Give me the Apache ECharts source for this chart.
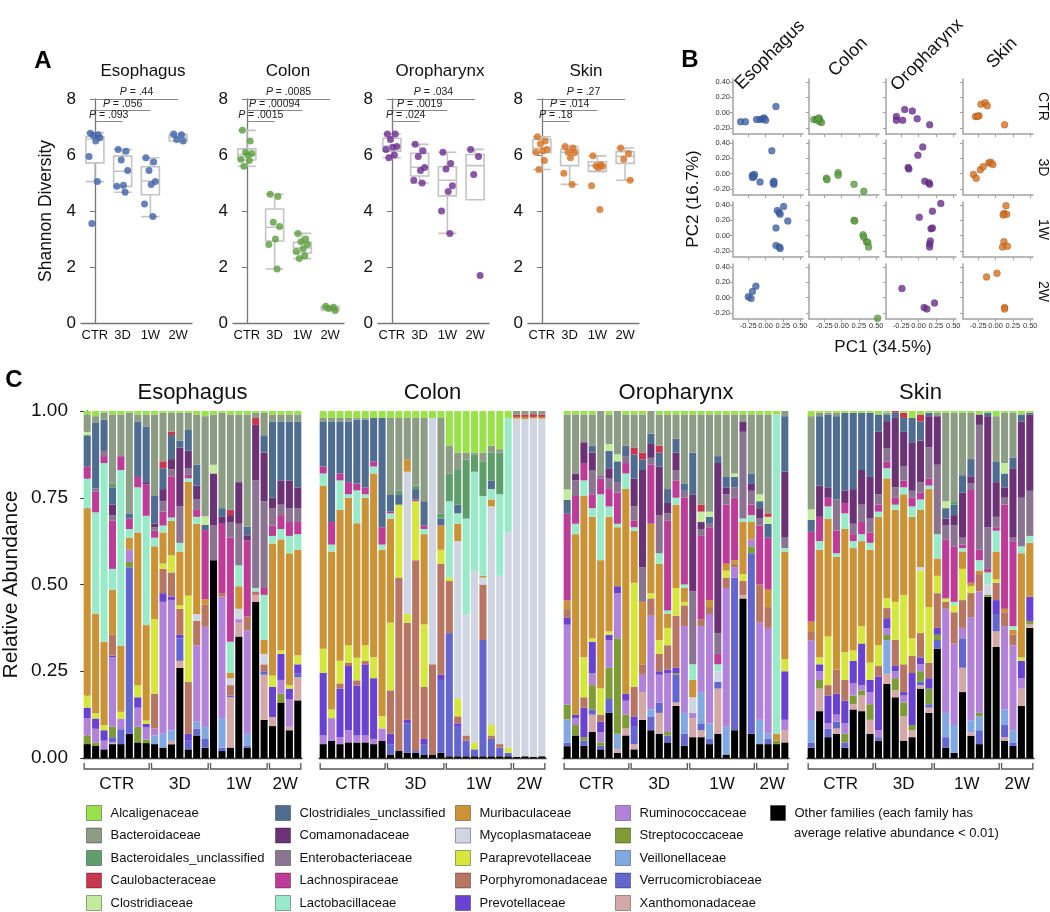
<!DOCTYPE html>
<html><head><meta charset="utf-8">
<script src="https://cdn.jsdelivr.net/npm/echarts@6/dist/echarts.min.js"></script>
<style>html,body{margin:0;padding:0;background:#fff}#c{width:1050px;height:912px}</style>
</head><body><div id="c"></div>
<script>
const FONT = '"Liberation Sans", Arial, Helvetica, sans-serif';
const TISSUES = ['Esophagus', 'Colon', 'Oropharynx', 'Skin'];
const GROUPS = ['CTR', '3D', '1W', '2W'];
const TISSUE_COLORS = ['#3f63a9', '#5b9f3d', '#6b2d8f', '#d7701f'];

// ---------- Panel A: Shannon diversity ----------
const shannonEsophagus = [[6.78,6.72,6.70,6.62,6.50,5.95,5.05,3.55],[6.20,6.13,5.82,5.45,4.92,4.88,4.67],[5.90,5.75,5.45,5.05,4.95,4.25,3.80],[6.75,6.72,6.55,6.50]];
const shannonColon = [[6.88,6.50,6.10,6.05,6.00,5.85,5.80,5.60],[4.60,4.52,3.60,3.45,3.00,2.80,1.93],[3.20,3.00,2.90,2.80,2.65,2.55,2.40,2.30],[0.60,0.56,0.52,0.45]];
const shannonOropharynx = [[6.75,6.75,6.55,6.30,6.28,6.20,6.00,5.90],[6.38,6.15,5.95,5.55,5.45,5.10,5.00],[6.10,5.70,5.50,4.90,4.70,4.00,3.20],[6.20,5.95,5.30,1.70]];
const shannonSkin = [[6.65,6.50,6.40,6.20,6.15,6.10,5.80,5.48],[6.30,6.25,6.10,6.08,5.90,5.35,4.95],[5.97,5.65,5.62,5.60,5.55,4.90,4.05],[6.25,6.05,5.85,5.10]];
// [min, Q1, median, Q3, max]
const boxEsophagus = [[5.05,5.72,6.57,6.66,6.80],[4.67,4.88,5.42,5.96,6.20],[3.80,4.58,5.07,5.58,5.90],[6.50,6.50,6.62,6.70,6.75]];
const boxColon = [[5.60,5.82,6.02,6.22,6.88],[1.93,2.93,3.42,4.07,4.60],[2.30,2.50,2.68,2.88,3.20],[0.45,0.50,0.55,0.58,0.60]];
const boxOropharynx = [[5.90,6.14,6.32,6.60,6.75],[5.00,5.25,5.56,6.06,6.38],[3.20,4.54,5.10,5.58,6.10],[4.40,4.40,5.62,6.02,6.20]];
const boxSkin = [[5.48,6.08,6.24,6.56,6.65],[4.95,5.62,6.10,6.20,6.30],[5.40,5.43,5.62,5.76,5.97],[5.10,5.70,5.95,6.12,6.25]];
const pEsophagus = ['.093', '.056', '.44'];
const pColon = ['.0015', '.00094', '.0085'];
const pOropharynx = ['.024', '.0019', '.034'];
const pSkin = ['.18', '.014', '.27'];
const P_BRACKET_Y = [7.2, 7.6, 8.0];

// ---------- Panel B: PCA (per tissue, rows CTR/3D/1W/2W) ----------
const pcaEsophagus = [
 [[-0.36,-0.12],[-0.29,-0.12],[-0.13,-0.09],[-0.08,-0.09],[-0.04,-0.08],[-0.02,-0.07],[0.0,-0.10],[0.15,0.08]],
 [[0.09,0.30],[-0.19,-0.02],[-0.17,-0.04],[-0.16,-0.01],[-0.19,-0.05],[-0.08,-0.11],[0.12,-0.10],[0.12,-0.14],[0.11,-0.12]],
 [[0.26,0.38],[0.17,0.33],[0.20,0.30],[0.21,0.28],[0.32,0.19],[0.15,0.10],[0.15,-0.13],[0.20,-0.15],[0.21,-0.17]],
 [[-0.14,0.15],[-0.19,0.08],[-0.25,0.01],[-0.21,-0.01]]];
const pcaColon = [
 [[-0.40,-0.09],[-0.36,-0.09],[-0.32,-0.08],[-0.31,-0.12],[-0.29,-0.13],[-0.35,-0.10],[-0.33,-0.07]],
 [[-0.22,-0.06],[-0.21,-0.08],[-0.05,0.01],[-0.05,-0.02],[0.18,-0.14],[0.32,-0.23]],
 [[0.18,0.20],[0.19,0.19],[0.31,0.01],[0.32,-0.02],[0.36,-0.08],[0.38,-0.09],[0.39,-0.15]],
 [[0.52,-0.27]]];
const pcaOropharynx = [
 [[-0.32,-0.05],[-0.20,0.04],[-0.09,0.02],[-0.02,-0.08],[0.16,-0.16],[-0.32,-0.10],[-0.23,-0.10]],
 [[0.06,0.35],[-0.01,0.24],[-0.15,0.08],[-0.14,0.06],[0.09,-0.10],[0.15,-0.12],[0.16,-0.14]],
 [[0.32,0.42],[0.20,0.32],[0.01,0.24],[0.18,0.09],[0.20,0.10],[0.17,-0.07],[0.16,-0.11],[0.16,-0.15]],
 [[-0.24,0.12],[0.08,-0.13],[0.12,-0.15],[0.23,-0.07]]];
const pcaSkin = [
 [[-0.29,-0.05],[-0.24,-0.04],[-0.21,0.11],[-0.15,0.13],[-0.12,0.09],[0.13,-0.16],[-0.26,-0.05]],
 [[-0.32,-0.01],[-0.28,-0.06],[-0.22,0.05],[-0.18,0.09],[-0.10,0.14],[-0.07,0.15],[-0.04,0.12]],
 [[0.15,0.39],[0.12,0.29],[0.16,0.28],[0.11,0.27],[0.12,-0.08],[0.10,-0.15],[0.17,-0.14]],
 [[-0.13,0.27],[0.02,0.32],[0.13,-0.13],[0.13,-0.15]]];

// ---------- Panel C: relative abundance (percent per sample) ----------
const FAMILY_NAMES = {Al:'Alcaligenaceae',Ba:'Bacteroidaceae',Bu:'Bacteroidales_unclassified',Ca:'Caulobacteraceae',Cl:'Clostridiaceae',
 Cu:'Clostridiales_unclassified',Co:'Comamonadaceae',En:'Enterobacteriaceae',Ln:'Lachnospiraceae',La:'Lactobacillaceae',
 Mu:'Muribaculaceae',My:'Mycoplasmataceae',Pa:'Paraprevotellaceae',Po:'Porphyromonadaceae',Pv:'Prevotellaceae',
 Ru:'Ruminococcaceae',St:'Streptococcaceae',Vl:'Veillonellaceae',Ve:'Verrucomicrobiaceae',X:'Xanthomonadaceae',O:'Other families'};
const FAMILY_COLORS = {Al:'#99e24c',Ba:'#8d9c85',Bu:'#5e9e6b',Ca:'#c8374f',Cl:'#c2eb9c',Cu:'#4e6d90',Co:'#6b3376',En:'#8a7491',
 Ln:'#be3b98',La:'#98ebc9',Mu:'#cc9236',My:'#cfd5e2',Pa:'#d6e63c',Po:'#b87561',Pv:'#6942d2',Ru:'#b282db',St:'#7e9b35',
 Vl:'#80a8e3',Ve:'#6366cf',X:'#d5a8a8',O:'#000000'};
const STACK_ORDER = ['O','X','Ve','Vl','St','Ru','Pv','Po','Pa','My','Mu','La','Ln','En','Co','Cu','Cl','Ca','Bu','Ba','Al'];

const esophagusGroupSizes = [8, 7, 7, 4];
const esophagusBars = [
 {O:4,St:2.5,Ru:5,Pv:3,Pa:3.5,Mu:54,La:8.5,Ln:3.5,Cu:9,Cl:1,Ba:5,Al:1},
 {O:3.5,St:1,Ru:4,Pv:3,Pa:1.5,Mu:29,La:29.5,Ln:6,En:1,Cu:19,Ba:2,Al:1.5},
 {O:2.5,Ru:2.5,Pv:3,Pa:1.5,Mu:24,La:51.5,Ln:2,En:1.5,Cu:9,Ba:2,Al:0.5},
 {O:4,X:0.5,Ve:1.5,St:3,Ru:20,Pv:0.5,Po:6,Mu:13,La:6,Ln:14,Co:3,En:1.5,Cu:5,Bu:1,Ba:20,Al:1},
 {O:4,Ve:4.3,Ru:3,Pa:2,Mu:19,La:50.6,Ln:4,Ba:12,Al:1},
 {O:7,Ve:48,St:1.5,Ru:3.5,Mu:3.5,La:2.5,Ln:3,Cu:1.5,Ba:29,Al:0.5},
 {O:4.5,St:4.5,Ru:5.5,Pv:3,Pa:3.5,Mu:44,La:13,Ln:3,Cu:16,Ba:2,Al:1},
 {O:4.3,St:1,Ru:3.5,Pv:1,Pa:1,Mu:27.5,La:31.5,Ln:9,Co:0.7,Cu:16,Ba:3.5,Al:1},
 {O:4,Vl:2.5,Ru:2,Po:10,Pa:21.5,Mu:21,La:2.5,Ln:2,En:1,Co:1,Cu:8,Ba:23.5,Al:1},
 {O:3,Vl:4,Ru:38,Pv:2.5,Po:7,Pa:1.5,Mu:9,La:2,Ln:4,En:3,Co:3.5,Ca:2,Cu:6,Ba:14,Al:0.5},
 {O:4,X:1,Vl:3,Ru:38,Pv:1,Po:7,Pa:5,Mu:10,La:1,Ln:12,En:2,Co:3,Cu:7,Ca:1,Ba:5.5,Al:0.5},
 {O:26,X:2,Ve:6.5,Pv:1,Po:7.5,Pa:1,Mu:15.5,La:2.5,En:10.5,Co:17,Cu:2,Ba:8,Al:0.5},
 {O:2.5,Ve:2.5,Pv:2,Po:15,Pa:25,Mu:33,La:1,Ln:1,En:2,Co:5,Cu:6,Ba:5,Al:0.5},
 {O:6.5,Vl:2,Ve:2,Ru:22,Po:7,My:2,Mu:26,La:2,Ln:2,En:3,Co:4,Cu:6,Ba:14.5,Al:1},
 {O:3,Ve:2.5,Vl:3.5,Ru:29,Po:6.5,Mu:1.5,Ln:20,Cl:2.5,Cu:1.5,Ba:29,Al:1.5},
 {O:57,En:10,Co:15,Cl:2.5,Ba:14.5,Al:1},
 {O:2,Ve:1,Vl:8.5,Ru:35,Po:1,Ln:20,Co:2,Cu:2.5,Ba:27.5,Al:0.5},
 {O:3,X:14.5,Ve:0.5,Po:3,My:2,Mu:1.5,La:9,Ln:30,En:4.5,Co:2,Ca:1.5,Ba:27.5,Al:1},
 {O:35,X:4,Ru:1,My:3,Mu:6.5,La:6,En:12,Co:12,Ba:19.5,Al:1},
 {O:3,Ve:0.5,Vl:3.5,Ru:30,Po:4,Ln:22,Cu:2.5,Co:1.5,Ba:32.5,Al:1},
 {O:45,X:2,Po:1,La:1,En:31,Co:16,Ca:2,Ba:1.5,Al:0.5},
 {O:11,X:13,Ve:1,Po:2,My:3,Mu:4,La:13,Ln:2,En:25,Co:14,Cu:5,Ba:6.5,Al:0.5},
 {O:9.2,X:2.6,Pv:8.7,Pa:3.3,Mu:38,La:2.2,Ln:3,En:5,Co:3,Cu:22,Ba:2,Al:1},
 {O:16,St:2.5,Ru:4,Pv:7.5,Pa:1,Mu:32,La:3,Ln:4,En:3,Co:7,Cu:17,Ba:2,Al:1},
 {O:8,X:1,Ru:8,Pv:3,Pa:1,Mu:38,La:5,Ln:4,En:4,Co:8,Cu:17,Ba:2,Al:1},
 {O:16.6,X:6.7,Ve:1,Pv:2.7,Pa:2.6,Mu:30.4,La:4.5,Ln:3.5,En:4,Co:6,Cu:19,Ba:2,Al:1}];

const colonGroupSizes = [8, 7, 8, 4];
const colonBars = [
 {O:4,Ru:2.5,Pv:18,Pa:7,Mu:47,La:3.5,Ln:2,Cu:13,Ba:1,Al:2},
 {O:5,Ru:6.5,Pa:2.5,Mu:45.5,La:2,Ln:6.5,Cu:29,Ba:1,Al:2},
 {O:4,Ru:2,Pv:14,Po:1.5,Pa:6.5,Mu:43.5,La:8.5,Ln:2,Cu:15,Ba:1,Al:2},
 {O:4.5,Ru:3.5,Pv:18.5,Po:1,Pa:5,Mu:42.5,La:1,Ln:3.5,Cu:17.5,Ba:1,Al:2},
 {O:4.5,Ru:2,Pv:14.5,Po:1.5,Pa:6.5,Mu:39,La:9.5,Ln:2,Cu:18.5,Ba:0.5,Al:2},
 {O:4.5,Ru:2,Pv:20.5,Po:1,Pa:4.5,Mu:42.5,La:1,Ln:2,Cu:19.5,Ba:0.5,Al:2},
 {O:4,Ru:1.5,Pv:17.5,Pa:6,Mu:53,La:2,Ln:1.5,Cu:12.5,Al:2},
 {O:5,Ru:3.5,Pa:3.5,Mu:48,La:1.5,Ln:5,Cu:31.5,Al:2},
 {O:1,Ve:3,Pv:3,Po:12.5,Pa:19.5,Mu:30,La:1.5,Ln:0.5,Cu:5,Ba:22,Al:2},
 {O:2,Po:50,Pa:21,Cu:3,Bu:1,Ba:21,Al:2},
 {O:1.5,Ve:8.5,Pv:1,Po:28,Pa:2.5,My:41,Mu:3.5,Ba:12,Al:2},
 {O:1.5,Ve:0.5,Po:55,Pa:17,Ln:0.5,Cu:3,Bu:1,Ba:19.5,Al:2},
 {O:1,Ve:3,Pv:1.5,Po:15,Pa:18,Mu:26,La:1.5,Ln:1,Cu:7,Ba:24,Al:2},
 {O:1,Po:26,My:71,Al:2},
 {O:1.5,Ve:21,Pv:1.5,Po:32,Pa:4,Mu:7,Cu:2,Bu:1.5,Ba:27.5,Al:2},
 {O:0.5,Ve:35.5,Po:15,Pa:1,La:22,Bu:8,Ba:8,Al:10},
 {O:0.5,Ve:8.5,Pv:1,Po:2,Pa:5,My:45.5,Mu:5,La:3,Cu:2.5,Bu:10,Ba:5,Al:12},
 {O:0.5,Ve:4.5,Po:1.5,My:35,La:27.5,Bu:17,Ba:2,Al:12},
 {O:0.5,Ve:2,Pa:2,My:49.5,La:28.5,Bu:5,Ba:0.5,Al:12},
 {O:0.5,Ve:33.5,Po:16,Mu:0.5,My:2,La:23,Bu:10,Ba:2.5,Al:12},
 {O:0.5,Ve:5,Po:1,Pa:3,My:63,Mu:2,La:3,Cu:2.5,Bu:8,Ba:2,Al:10},
 {O:0.5,Ve:2.5,Po:1,My:48.5,La:23.5,Bu:12,Ba:1,Al:11},
 {O:0.5,Ve:1,Pa:1.5,My:62,La:33,Al:2},
 {O:0.3,My:97.5,Mu:0.5,Ca:0.7,Ba:1},
 {O:0.5,My:97.2,Mu:0.6,Ca:0.7,Ba:1},
 {O:0.3,My:97.6,Mu:0.4,Ca:0.8,Ba:0.9},
 {O:0.5,My:97.3,Mu:0.5,Ca:0.7,Ba:1}];

const oropharynxGroupSizes = [8, 7, 8, 4];
const oropharynxBars = [
 {O:3.4,Ve:1,Vl:6.7,St:4.3,Ru:23,Pv:2,Po:2.5,Mu:2.5,Ln:25,Cu:4,Cl:3,Ba:21.6,Al:1},
 {O:6.5,St:3,Ru:2,Pv:1,Mu:52,La:3,Ln:8,En:4.5,Co:2,Ba:17,Al:1},
 {O:3.5,Ve:1.5,St:1,Pv:8.5,Po:3,Pa:11.5,Mu:46.5,La:4.5,Ln:5,Co:6,Ba:8,Al:1},
 {O:7.5,X:5,Ve:1.5,Ru:3.5,St:7,Pv:9,Pa:1,Mu:35,La:2.5,Ln:4,En:7,Co:5,Cu:2,Ba:9,Al:1},
 {O:2.5,Ve:1,St:1,Ru:3,Pv:3,Po:2,Pa:7.5,Mu:37,La:19,Ln:4.5,En:1,Ba:18.5},
 {O:13,Ve:4,Pv:1.5,St:9,Ru:8,Pa:1,Mu:33,La:3,Ln:5,En:3,Co:3,Cu:5,Cl:2,Ba:8.5,Al:1},
 {O:1.5,X:1,Vl:4.5,St:27.5,Ru:13,Pv:2,Mu:17,La:1,Ln:9,En:3,Cu:6,Cl:2,Ba:12.5},
 {O:6.5,X:2,St:4,Ru:4,Pv:2,Mu:59,La:4.5,Ln:3,En:2,Cu:3,Ba:9,Al:1},
 {O:2.5,X:1.5,Ve:5,Pv:3,Po:8.5,Pa:30,Mu:15,La:1,Ln:2,En:4,Co:8,Cu:7,Ca:2,Ba:9.5,Al:1},
 {O:11,X:8,Ru:5,Mu:18,Po:3,En:10,Co:28,Cu:3,Ca:2,Ba:11,Al:1},
 {O:8,Ve:4,Vl:2,Ru:27,Po:5,Pa:1.5,Mu:20,Ln:17,En:2,Co:4,Cu:3,Ba:6.5},
 {O:7,X:6,Ve:3,Pv:1,Ru:8,Po:5,Pa:4,Mu:22,La:3,En:11,Co:14,Cu:4,Ca:2,Ba:9,Al:1},
 {O:4.5,Ve:2,St:1,Ru:17,Pv:1,Po:7,Pa:5,Mu:4,La:1,Ln:26,En:2,Co:3,Cu:4,Ba:21.5,Al:1},
 {O:15,X:1,Ve:8,Pv:1.5,St:0.5,Po:15,Pa:8,Mu:24,La:2,Ln:5,En:3,Co:5,Cu:4,Ba:7,Al:1},
 {O:3.5,Ve:3.5,Vl:6,Ru:25,Po:6,Pa:1,Mu:4,Ln:25,La:1,En:2,Cu:2,Ba:20,Al:1},
 {O:6,X:5.5,Ru:1.5,My:4.5,Mu:5,La:4.5,En:21,Co:28,Cu:12,Ba:11,Al:1},
 {O:6,X:2,Ve:2,Vl:9,Ru:19,Po:2,Ln:24,En:2,Co:2,Ca:2,Cl:3,Ba:26,Al:1},
 {O:4,Ve:1.5,Vl:4.5,Ru:31.5,Po:2,Mu:2,Ln:21,En:1,Cu:2,Cl:1.5,Ba:28,Al:1},
 {O:7,X:13,Ve:2,My:3,La:2,Ln:3,En:6,Co:49,Cu:2,Ba:12,Al:1},
 {O:1,Vl:8,Ru:40,Po:3,Mu:2,Ln:17,En:3,Co:2,Cu:3,Pa:2,Ba:18,Al:1},
 {O:8,Ve:44,Ru:3,Po:1,Mu:1,Ln:18,En:3,Cu:3,Cl:1,Ba:17,Al:1},
 {O:46,X:1,Po:4,Pa:2,Mu:15,La:1,En:25,Co:3,Ba:2,Al:1},
 {O:7,Ve:52,St:2,Ru:2,Mu:5,La:2,Ln:3,En:4,Co:2,Cu:3,Ba:17,Al:1},
 {O:4,Vl:7,Ru:28,Po:11,Ln:17,En:2,Co:3,Cu:2,Cl:2,Ba:23,Al:1},
 {O:4,Ve:1.5,Vl:1.5,Ru:30.5,Po:6,Mu:5,Ln:15,Cu:4,Cl:2,Ca:1,Ba:28.5,Al:1},
 {O:4,St:1,Mu:2,La:92,Al:1},
 {O:4.5,X:3.5,Ru:3,Pv:14,Pa:3.5,Mu:31,La:1,En:3,Co:19,Cu:16,Ba:1.5}];

const skinGroupSizes = [8, 7, 8, 4];
const skinBars = [
 {O:3,Ve:1.5,Vl:6.5,Ru:23,Po:2.5,Mu:3,Ln:26,Cu:3.5,Cl:3,Ba:27,Al:1.5},
 {O:13.5,X:6.5,St:2.5,Ru:2.5,Pv:2,Pa:2,Mu:31,La:2.5,Ln:7,Co:9,Cu:20,Ba:1,Al:0.5},
 {O:6,Ve:2.5,Ru:1.5,Pv:8,Po:3,Pa:14,Mu:34,La:3.5,Ln:2.5,Co:3,Cu:21,Ba:0.5,Al:0.5},
 {O:7,X:1.5,Ve:2,Pv:6,Ru:2,Po:7,Mu:32.5,La:1,Ln:6.5,En:9,Cu:24,Ba:1,Al:0.5},
 {O:3,Ve:1.5,St:2.5,Ru:3,Pv:6.5,Po:6,Pa:8,Mu:35.5,La:4.5,Ln:3,Co:3.5,Cu:22.5,Al:0.5},
 {O:14,X:1.5,St:2.5,Ru:3.5,Pv:6.5,Pa:3,Mu:29.5,La:2,Ln:2,En:3,Co:10,Cu:22,Al:0.5},
 {O:13.5,X:4.5,St:1.5,Ru:1.5,Pv:12,Pa:5,Mu:24.5,La:2,Ln:3.5,En:5,Co:10,Cu:16.5,Al:0.5},
 {O:7,X:4,St:4.5,Ru:3.5,Pv:3.5,Pa:5,Mu:32.5,La:2,Ln:3,En:4,Co:12,Cu:18.5,Al:0.5},
 {O:5,Ve:1,Ru:2,Pv:15.5,Po:3,Pa:6,Mu:37,La:1.5,Ln:2,En:3,Co:18,Cu:5,Al:1},
 {O:22,X:3,Vl:10,Pv:3,St:1.5,Ru:2,Po:3,Pa:3,Mu:35.5,La:3,Ln:2,En:4,Co:8,Cu:2,Ba:0.5,Al:0.5},
 {O:17.5,X:2,St:3.5,Ru:2,Pv:1.5,Po:7.5,Pa:11,Mu:26.5,La:1.5,Ln:2,En:3,Co:20,Cu:1.5,Ca:0.5},
 {O:5,X:7,St:4,Ru:2,Pv:1,Po:8,Pa:20,Mu:29,La:2,Ln:2,En:4,Co:10,Cu:4,Ca:1.5,Al:0.5},
 {O:6,X:2,St:1.5,Pv:15,Po:5,Pa:5,Mu:35,La:3,Ln:2.5,En:2,Co:14,Cu:7,Al:2},
 {O:20,X:1,St:3,Ve:1,Ru:2,Pv:2,Po:7,Pa:18,My:1,Mu:16.5,La:3,Ln:2,En:3,Co:12,Cu:5.5,Ca:2,Al:1},
 {O:13,X:1.5,Ve:1,St:4.5,Pv:3,Po:4.5,Pa:16,Mu:34,La:1,Ln:2,En:9,Co:9,Cu:1,Al:0.5},
 {O:31.5,Ve:2.5,St:1.5,Pv:2,Po:10,Pa:5,Mu:5,La:7,En:20,Co:14,Ba:1,Al:0.5},
 {O:3,Ve:3,Vl:7,Ru:30,Po:2,Pa:1,Ln:17,En:4,Co:2,Cu:3,Cl:2,Ba:25.5,Al:0.5},
 {O:1.5,Vl:8,Ru:23.5,Po:9,Pa:2,Ln:16,La:1,En:6,Co:3,Cu:3,Bu:1,Ba:25.5,Al:0.5},
 {O:19,X:7,Ve:8.5,Ru:3,Po:8,Pa:9,Mu:5,La:1,Ln:1,En:2,Co:13,Cu:5,Ba:18,Al:0.5},
 {O:6.5,X:1,Vl:3.5,Ru:30,Po:7,Pa:2,Mu:1,Ln:27,En:2,Co:2,Cu:5,Ba:13.5,Al:0.5},
 {O:4,Ve:4,Vl:4,Ru:35,Po:5,St:1,Mu:1,La:3,Ln:3,En:36,Co:3,Al:1},
 {O:46.5,St:0.5,My:3,La:3.5,Ln:1,En:12,Co:32,Cu:1,Al:0.5},
 {O:32,X:4.5,Ve:5,Pv:4,Po:5,Pa:1,Mu:8,La:6,Ln:1,En:3,Co:10,Cu:6,Ba:13,Al:1.5},
 {O:5,Ve:3.5,Vl:4.5,Ru:24,X:1,Po:4,Mu:1,Ln:30,En:2,Co:3,Cu:4,Cl:3,Ba:14.5,Al:0.5},
 {O:3.5,Ve:1,Vl:3.5,Ru:24.5,Po:3,Mu:1.5,Ln:24.5,La:1,En:1,Co:20,Cu:3,Ba:13,Al:0.5},
 {O:15,X:5,Ru:3,Pv:5,Pa:1,Mu:30,La:2,Co:22,En:14,Cu:2,Al:1},
 {O:37.5,X:1,St:1,Pv:7,Mu:15.5,La:2,En:13,Co:22,Cu:0.5,Al:0.5}];

// ---------- build ----------
const JITTER = [-0.16, 0.12, -0.05, 0.18, 0.03, -0.21, 0.09, -0.11, 0.15];
const grid = [], xAxis = [], yAxis = [], series = [], graphic = [], legend = [];
function txt(text, x, y, size, opts) {
  opts = opts || {};
  graphic.push({type:'text', x:x, y:y, rotation:opts.rot || 0, silent:true,
    style:{text:text, fill:opts.color || '#111', font:(opts.weight || 'normal') + ' ' + size + 'px ' + FONT,
      textAlign:opts.align || 'center', textVerticalAlign:'middle', align:opts.align || 'center', verticalAlign:'middle'}});
}

// Panel A
const shannon = [shannonEsophagus, shannonColon, shannonOropharynx, shannonSkin];
const boxes = [boxEsophagus, boxColon, boxOropharynx, boxSkin];
const pvals = [pEsophagus, pColon, pOropharynx, pSkin];
const A_LEFT = [81, 233, 378, 528], A_TITLE_X = [143, 288, 440, 586];
TISSUES.forEach((t, i) => {
  const g = grid.length;
  grid.push({left:A_LEFT[i], top:99, width:111, height:224});
  const xc = xAxis.length;
  xAxis.push({type:'category', gridIndex:g, data:GROUPS,
    axisLine:{lineStyle:{color:'#777', width:1.3}}, axisTick:{alignWithLabel:true, length:4, lineStyle:{color:'#777'}},
    axisLabel:{color:'#111', fontSize:13, margin:6, interval:0, fontFamily:FONT}});
  const xv = xAxis.length;
  xAxis.push({type:'value', gridIndex:g, min:-0.5, max:3.5, show:false});
  const y = yAxis.length;
  yAxis.push({type:'value', gridIndex:g, min:0, max:8, interval:2,
    axisLine:{show:true, lineStyle:{color:'#777', width:1.3}}, axisTick:{show:true, length:5, lineStyle:{color:'#777'}},
    axisLabel:{fontSize:17, color:'#111', margin:5, fontFamily:FONT}, splitLine:{show:false},
    name:i === 0 ? 'Shannon Diversity' : '', nameLocation:'middle', nameGap:26, nameRotate:90,
    nameTextStyle:{fontSize:17.5, color:'#111', fontFamily:FONT}});
  series.push({type:'boxplot', xAxisIndex:xc, yAxisIndex:y, data:boxes[i], boxWidth:[18, 18], silent:true, z:2,
    itemStyle:{color:'#fff', borderColor:'#c4c4c4', borderWidth:1.6}});
  const pts = [];
  shannon[i].forEach((arr, gi) => arr.forEach((v, k) => pts.push([gi + JITTER[k % JITTER.length], v])));
  series.push({type:'scatter', xAxisIndex:xv, yAxisIndex:y, data:pts, symbolSize:7, z:3, silent:true,
    itemStyle:{color:TISSUE_COLORS[i]},
    markLine:{symbol:'none', silent:true, animation:false, lineStyle:{color:'#8a8a8a', width:1, type:'solid'},
      label:{show:true, position:'insideMiddleTop', distance:1, color:'#222', fontSize:10.5, fontFamily:FONT,
        rich:{i:{fontStyle:'italic', fontSize:10.5, color:'#222', fontFamily:FONT}}},
      data:P_BRACKET_Y.map((yy, k) => [{coord:[0, yy], label:{formatter:'{i|P} = ' + pvals[i][k]}}, {coord:[k + 1, yy]}])}});
  txt(t, A_TITLE_X[i], 71, 17);
});
txt('A', 43, 61, 24, {weight:'bold', color:'#000'});

// Panel B
const pca = [pcaEsophagus, pcaColon, pcaOropharynx, pcaSkin];
const B_LEFT = [733, 809, 886, 963], B_TOP = [79, 140, 202, 264], B_W = 70, B_H = 55;
for (let r = 0; r < 4; r++) {
  for (let c = 0; c < 4; c++) {
    const g = grid.length;
    grid.push({left:B_LEFT[c], top:B_TOP[r], width:B_W, height:B_H});
    const xi = xAxis.length;
    xAxis.push({type:'value', gridIndex:g, min:-0.47, max:0.54,
      axisLine:{show:true, onZero:false, lineStyle:{color:'#a3a3a3', width:1.5}},
      axisTick:{show:true, length:3, customValues:[-0.25, 0, 0.25, 0.5], lineStyle:{color:'#a3a3a3'}},
      axisLabel:{show:r === 3, customValues:[-0.25, 0, 0.25, 0.5], formatter:v => v.toFixed(2), fontSize:7.5, color:'#333', margin:3, fontFamily:FONT},
      splitLine:{show:false}});
    const yi = yAxis.length;
    yAxis.push({type:'value', gridIndex:g, min:-0.28, max:0.44,
      axisLine:{show:true, onZero:false, lineStyle:{color:'#a3a3a3', width:1.5}},
      axisTick:{show:true, length:3, customValues:[-0.2, 0, 0.2, 0.4], lineStyle:{color:'#a3a3a3'}},
      axisLabel:{show:c === 0, customValues:[-0.2, 0, 0.2, 0.4], formatter:v => v.toFixed(2), fontSize:7.5, color:'#333', margin:3, fontFamily:FONT},
      splitLine:{show:false}});
    series.push({type:'scatter', xAxisIndex:xi, yAxisIndex:yi, data:pca[c][r], symbolSize:7, silent:true,
      itemStyle:{color:TISSUE_COLORS[c], borderColor:'rgba(0,0,0,0.3)', borderWidth:0.6}});
  }
  txt(GROUPS[r], 1043, B_TOP[r] + B_H / 2, 14, {rot:-Math.PI / 2});
}
[[770, 55], [848, 57], [927, 55], [1002, 53]].forEach((p, c) => txt(TISSUES[c], p[0], p[1], 18, {rot:Math.PI / 4}));
txt('PC2 (16.7%)', 693, 199, 17, {rot:Math.PI / 2});
txt('PC1 (34.5%)', 883, 347, 17);
txt('B', 690, 60, 24, {weight:'bold', color:'#000'});

// Panel C
const cBars = [esophagusBars, colonBars, oropharynxBars, skinBars];
const cGroups = [esophagusGroupSizes, colonGroupSizes, oropharynxGroupSizes, skinGroupSizes];
const C_LEFT = [83, 319, 563, 807], C_W = [219, 227, 226, 227], C_TOP = 411, C_H = 347;
function bracketRender(params, api) {
  const a = api.coord([api.value(0) - 0.36, 0]), b = api.coord([api.value(1) + 0.36, 0]);
  const y = a[1] + 11;
  return {type:'group', children:[
    {type:'polyline', shape:{points:[[a[0], y - 6], [a[0], y], [b[0], y], [b[0], y - 6]]},
      style:{stroke:'#555', lineWidth:1.3, fill:null}},
    {type:'text', x:(a[0] + b[0]) / 2, y:y + 15,
      style:{text:GROUPS[params.dataIndex], font:'17px ' + FONT, fill:'#111', textAlign:'center', textVerticalAlign:'middle', align:'center', verticalAlign:'middle'}}]};
}
cBars.forEach((bars, p) => {
  const g = grid.length;
  grid.push({left:C_LEFT[p], top:C_TOP, width:C_W[p], height:C_H});
  const xc = xAxis.length;
  xAxis.push({type:'category', gridIndex:g, data:bars.map((b, i) => String(i + 1)),
    axisLine:{lineStyle:{color:'#333', width:1.3}}, axisTick:{show:false}, axisLabel:{show:false}});
  const xv = xAxis.length;
  xAxis.push({type:'value', gridIndex:g, min:-0.5, max:bars.length - 0.5, show:false});
  const y = yAxis.length;
  yAxis.push({type:'value', gridIndex:g, min:0, max:1, interval:0.25, show:p === 0, offset:5,
    axisLine:{show:true, lineStyle:{color:'#333', width:1.3}}, axisTick:{show:true, length:7, lineStyle:{color:'#333'}},
    axisLabel:{fontSize:19, color:'#111', margin:10, formatter:v => v.toFixed(2), fontFamily:FONT}, splitLine:{show:false},
    name:'Relative Abundance', nameLocation:'middle', nameGap:56, nameRotate:90,
    nameTextStyle:{fontSize:21, color:'#111', fontFamily:FONT}});
  STACK_ORDER.forEach(key => {
    series.push({type:'bar', name:FAMILY_NAMES[key], xAxisIndex:xc, yAxisIndex:y, stack:'C' + p,
      barCategoryGap:'16%', silent:true, itemStyle:{color:FAMILY_COLORS[key]},
      data:bars.map(b => {
        const tot = STACK_ORDER.reduce((s, k) => s + (b[k] || 0), 0);
        return (b[key] || 0) / tot;
      })});
  });
  let start = 0;
  const ranges = cGroups[p].map(n => { const r = [start, start + n - 1]; start += n; return r; });
  series.push({type:'custom', xAxisIndex:xv, yAxisIndex:y, clip:false, silent:true, data:ranges, renderItem:bracketRender});
  txt(TISSUES[p], C_LEFT[p] + C_W[p] / 2, 393, 22);
});
txt('C', 14, 380, 24, {weight:'bold', color:'#000'});

// Legend (five columns)
const LEGEND_COLS = [['Al','Ba','Bu','Ca','Cl'], ['Cu','Co','En','Ln','La'], ['Mu','My','Pa','Po','Pv'], ['Ru','St','Vl','Ve','X'], ['O']];
const LEGEND_LEFT = [86, 275, 455, 615, 770];
LEGEND_COLS.forEach((keys, i) => {
  legend.push({orient:'vertical', left:LEGEND_LEFT[i], top:805, height:118, padding:0, itemWidth:15, itemHeight:15, itemGap:6.5,
    icon:'rect', selectedMode:false, data:keys.map(k => FAMILY_NAMES[k]),
    itemStyle:{borderColor:'rgba(0,0,0,0.35)', borderWidth:1},
    formatter:n => n === 'Other families' ? 'Other families (each family has' : n,
    textStyle:{fontSize:13, color:'#111', fontFamily:FONT, padding:[0, 0, 0, 4]}});
});
txt('average relative abundance < 0.01)', 794, 833, 13, {align:'left'});

const chart = echarts.init(document.getElementById('c'), null, {renderer:'canvas', width:1050, height:912});
chart.setOption({animation:false, backgroundColor:'#fff', textStyle:{fontFamily:FONT},
  grid:grid, xAxis:xAxis, yAxis:yAxis, series:series, legend:legend, graphic:{elements:graphic}});
</script></body></html>
